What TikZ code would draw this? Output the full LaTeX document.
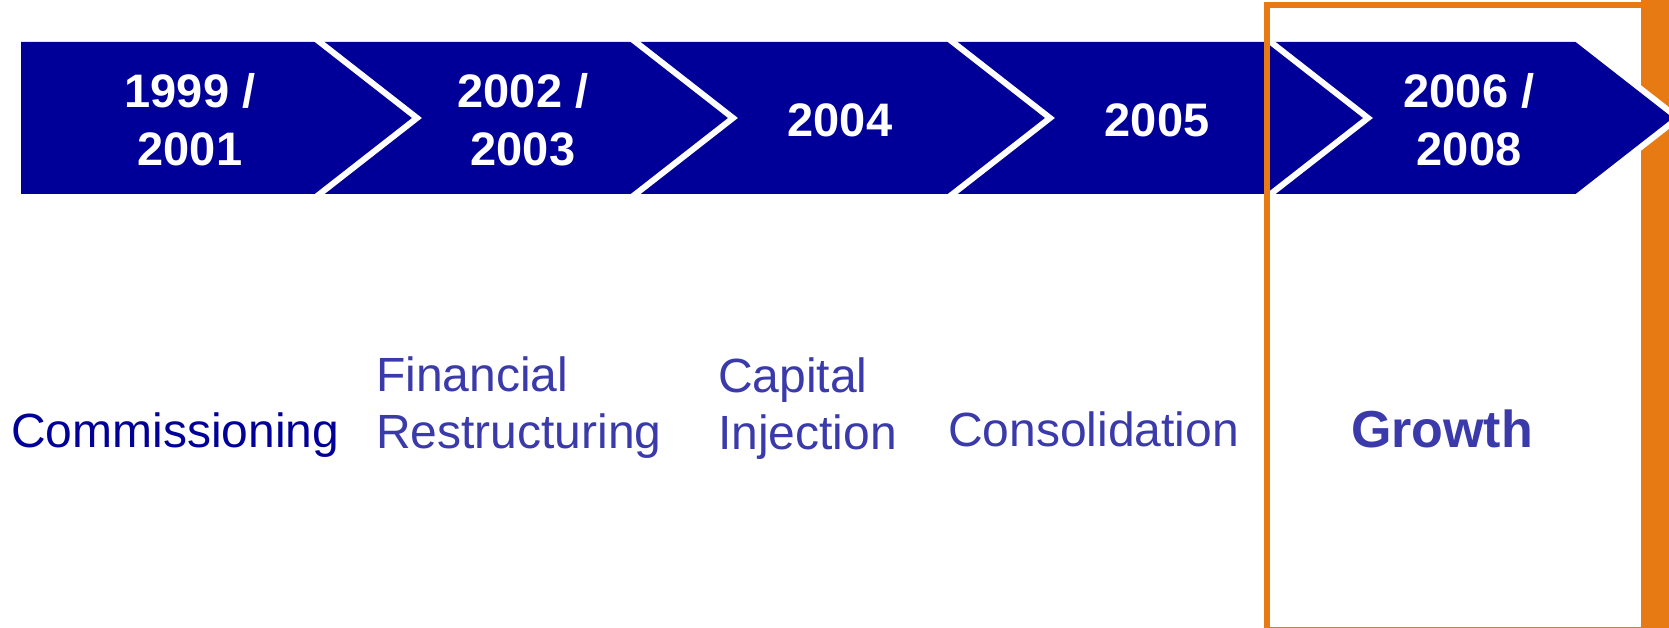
\documentclass[tikz,border=0pt]{standalone}
\usepackage{fontspec}
\setmainfont{Liberation Sans}
\definecolor{bannerblue}{RGB}{0,0,153}
\definecolor{labelblue}{RGB}{58,58,170}
\definecolor{darklabel}{RGB}{0,0,153}
\definecolor{hiorange}{RGB}{232,122,20}
\begin{document}
\begin{tikzpicture}[x=1pt,y=-1pt,
  year/.style={text=white, font=\fontsize{47}{58}\selectfont\bfseries, align=center, inner sep=0pt, anchor=base},
  phase/.style={text=labelblue, font=\fontsize{48}{57}\selectfont, align=left, inner sep=0pt, anchor=base west},
  sepline/.style={draw=white, line width=6pt, miter limit=10},
  piece/.style={fill=bannerblue},
  frameline/.style={draw=hiorange, line width=5.5pt}]
\useasboundingbox (0,0) rectangle (1669,628);
\fill[white] (0,0) rectangle (1669,628);
% right orange bar
\fill[hiorange] (1641,0) rectangle (1669,628);
% banner pieces
\path[piece] (21,42) -- (320,42) -- (417,118) -- (320,194) -- (21,194) -- cycle;
\foreach \a/\b in {320/636, 636/953, 953/1271, 1271/1581}{
  \path[piece] (\a,42) -- (\b,42) -- (\b+97,118) -- (\b,194) -- (\a,194) -- (\a+97,118) -- cycle;
}
% white separators
\foreach \c in {320,636,953,1271,1581}{
  \draw[sepline] (\c-8,36) -- (\c+97,118) -- (\c-8,200);
}
% orange frame
\draw[frameline] (1641,5) -- (1267,5) -- (1267,629.5) -- (1641,629.5);
% years
\node[year] (y1) at (190,166) {1999 /\\2001};
\node[year] (y2) at (523,166) {2002 /\\2003};
\node[year] (y3) at (840,137) {2004};
\node[year] (y4) at (1157,137) {2005};
\node[year] (y5) at (1469,166) {2006 /\\2008};
% phases
\node[phase, text=darklabel] (p1) at (11,447) {Commissioning};
\node[phase] (p2) at (376,448) {Financial\\Restructuring};
\node[phase] (p3) at (718,449) {Capital\\Injection};
\node[phase] (p4) at (948,446) {Consolidation};
\node[phase, font=\fontsize{52}{60}\selectfont\bfseries, anchor=base] (p5) at (1442,447) {Growth};
\end{tikzpicture}
\end{document}
